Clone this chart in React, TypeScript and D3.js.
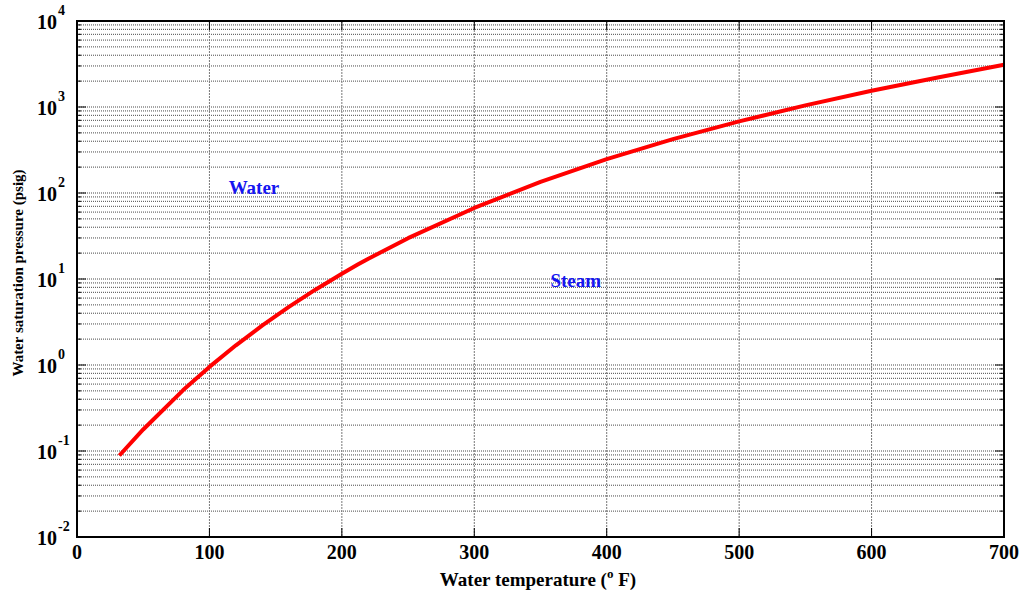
import React from "react";
import * as d3 from "d3";

const temperatures = [32, 50, 80, 100, 120, 140, 160, 180, 200, 212, 220, 250, 300, 350, 400, 450, 500, 550, 600, 650, 700];
const pressures = [0.0887, 0.178, 0.507, 0.950, 1.695, 2.892, 4.745, 7.515, 11.53, 14.70, 17.19, 29.82, 67.01, 134.6, 247.3, 422.6, 680.8, 1045, 1543, 2208, 3094];
const xTicks = [0, 100, 200, 300, 400, 500, 600, 700];
const yExponents = [-2, -1, 0, 1, 2, 3, 4];
const regionLabels = [
  { text: "Water", t: 114.5, p: 113 },
  { text: "Steam", t: 357.5, p: 9.5 },
];

const W = 1024, H = 590;
const L = 77, R = 1004, T = 21, B = 537;
const FONT = "'Liberation Serif', 'Times New Roman', serif";

export default function App() {
  const x = d3.scaleLinear().domain([0, 700]).range([L, R]);
  const y = d3.scaleLog().domain([1e-2, 1e4]).range([B, T]);

  const minors: number[] = [];
  for (let e = -2; e < 4; e++) {
    for (let m = 2; m <= 9; m++) minors.push(m * Math.pow(10, e));
  }
  const decades = yExponents.map((e) => Math.pow(10, e));

  const line = d3
    .line<number>()
    .x((_, i) => x(temperatures[i]))
    .y((d) => y(d));

  return (
    <svg width={W} height={H} style={{ position: "absolute", left: 0, top: 0, background: "#fff" }}>
      <rect x={0} y={0} width={W} height={H} fill="#fff" />
      {/* horizontal grid */}
      {[...minors, ...decades].map((v, i) => (
        <line key={"hg" + i} x1={L} x2={R} y1={y(v)} y2={y(v)} stroke="#4a4a4a" strokeWidth={1} strokeDasharray="1,1" />
      ))}
      {/* vertical grid */}
      {xTicks.map((t, i) => (
        <line key={"vg" + i} x1={x(t)} x2={x(t)} y1={T} y2={B} stroke="#777" strokeWidth={1} strokeDasharray="2,1" />
      ))}
      {/* y ticks */}
      {minors.map((v, i) => (
        <g key={"ymt" + i}>
          <line x1={L} x2={L + 4} y1={y(v)} y2={y(v)} stroke="#000" />
          <line x1={R} x2={R - 4} y1={y(v)} y2={y(v)} stroke="#000" />
        </g>
      ))}
      {decades.map((v, i) => (
        <g key={"yMt" + i}>
          <line x1={L} x2={L + 9} y1={y(v)} y2={y(v)} stroke="#000" />
          <line x1={R} x2={R - 9} y1={y(v)} y2={y(v)} stroke="#000" />
        </g>
      ))}
      {/* x ticks */}
      {xTicks.map((t, i) => (
        <g key={"xt" + i}>
          <line x1={x(t)} x2={x(t)} y1={B} y2={B - 9} stroke="#000" />
          <line x1={x(t)} x2={x(t)} y1={T} y2={T + 9} stroke="#000" />
        </g>
      ))}
      {/* curve */}
      <path d={line(pressures) || ""} fill="none" stroke="#ff0000" strokeWidth={4} strokeLinejoin="round" />
      {/* box */}
      <rect x={L} y={T} width={R - L} height={B - T} fill="none" stroke="#000" strokeWidth={2} />
      {/* y tick labels */}
      {yExponents.map((e, i) => (
        <text key={"yl" + i} x={57} y={y(Math.pow(10, e)) + 8} fontFamily={FONT} fontWeight="bold" fontSize={20} textAnchor="end" fill="#000">
          10
          <tspan x={58} dy={-14} fontSize={14} textAnchor="start">{String(e)}</tspan>
        </text>
      ))}
      {/* x tick labels */}
      {xTicks.map((t, i) => (
        <text key={"xl" + i} x={x(t)} y={559} fontFamily={FONT} fontWeight="bold" fontSize={20} textAnchor="middle" fill="#000">
          {t}
        </text>
      ))}
      {/* axis titles */}
      <text x={538} y={586} fontFamily={FONT} fontWeight="bold" fontSize={19} textAnchor="middle" fill="#000">
        Water temperature (<tspan dy={-8} fontSize={13}>o</tspan>
        <tspan dy={8}> F)</tspan>
      </text>
      <text transform="translate(23,273) rotate(-90)" fontFamily={FONT} fontWeight="bold" fontSize={15} textAnchor="middle" fill="#000">
        Water saturation pressure (psig)
      </text>
      {/* region labels */}
      {regionLabels.map((r, i) => (
        <text key={"rl" + i} x={x(r.t)} y={y(r.p) + 6} fontFamily={FONT} fontWeight="bold" fontSize={19} fill="#1515f0">
          {r.text}
        </text>
      ))}
    </svg>
  );
}
